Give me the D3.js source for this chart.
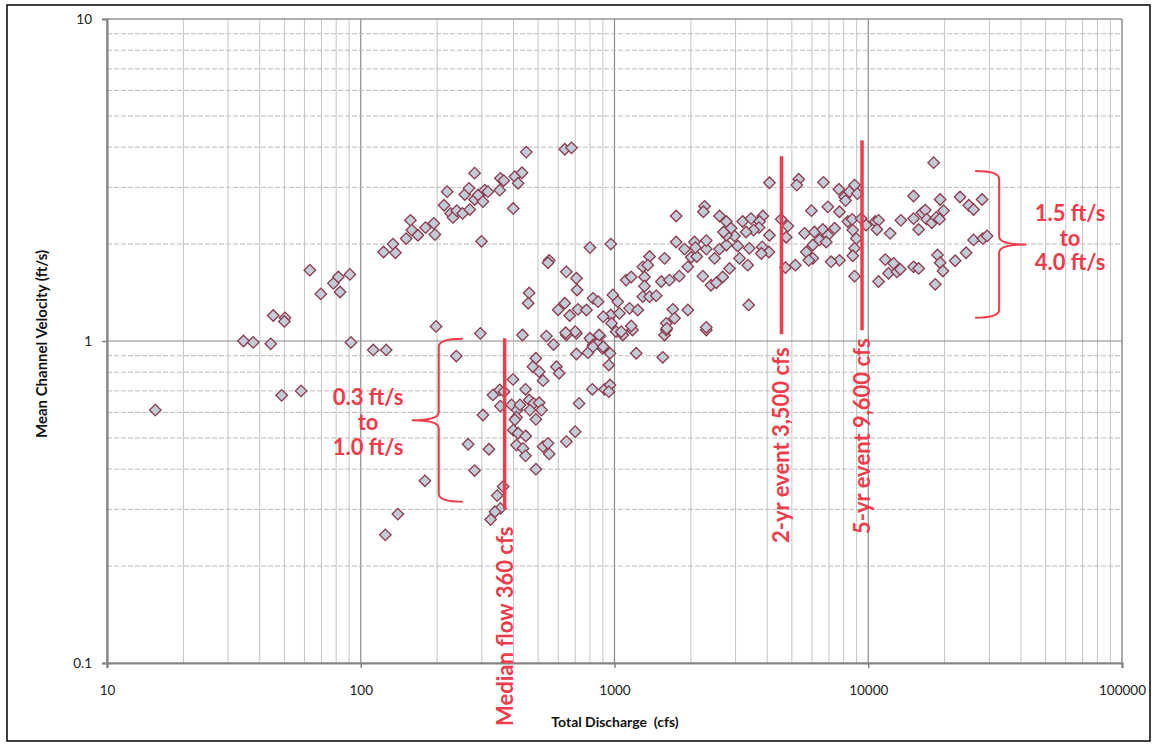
<!DOCTYPE html>
<html><head><meta charset="utf-8">
<script src="https://cdn.jsdelivr.net/npm/d3@7"></script>
<style>
body{margin:0;background:#fff;}
svg{display:block;}
</style></head>
<body>
<svg id="c" width="1155" height="744"></svg>
<script>
// ---- data ----
const discharge = [
15.5,34.5,37.7,44.2,45.2,50.3,50,63,69.6,78,81.6,82.9,90.6,91.5,48.8,58.2,112,126,125,140,179,198,238,296,265,281,303,320,
123,134,137,151,157,159,168,180,194,196,213,219,226,231,239,252,257,267,269,281,281,290,303,308,317,299,353,355,366,399,405,417,432,449,637,677,
434,539,575,490,553,547,461,457,600,646,708,800,876,1015,1078,1178,1575,1600,2300,477,505,523,398,590,605,708,786,823,862,897,960,950,1218,1550,
818,915,960,950,725,446,332,353,367,355,393,413,424,461,480,505,516,464,490,411,405,399,417,447,411,436,446,490,523,547,553,646,700,364,345,355,338,325,
800,967,646,708,712,637,666,718,775,700,642,823,862,985,1030,966,903,1046,974,1063,869,823,903,
1112,1164,1313,1293,1374,1353,1313,1293,1374,1460,1146,1235,1164,1530,1647,1575,1750,1888,2067,1946,1800,2006,2110,2300,2300,2085,
1698,1724,1600,1607,1946,2300,2480,2594,2760,2970,2760,3060,3110,3350,3400,2230,2400,2520,2670,2840,3820,4060,3790,4080,
2264,2240,2594,2760,2880,2690,3200,3450,3840,3730,3710,3530,3300,4540,4820,4750,1750,4080,5320,5230,6660,7660,8070,8430,8830,9060,8140,
5970,6930,7700,5610,6140,6620,6930,7370,6420,6830,6050,8310,8650,9380,9800,10660,8690,8970,8830,8690,8830,10980,7700,7140,6050,5700,5830,5160,4720,3380,
18100,15090,19200,23000,24900,26000,28100,10980,10820,12200,13450,15090,15800,16280,16780,17000,17800,18530,19100,19800,
11670,12580,12020,12970,13370,15090,15800,18750,19200,19700,18370,22000,24300,26000,28300,29400
];
const velocity = [
0.61,1.0,0.99,0.98,1.2,1.18,1.15,1.66,1.40,1.51,1.58,1.42,1.61,0.99,0.678,0.70,0.938,0.938,0.25,0.29,0.368,1.11,0.898,1.056,0.478,0.396,0.589,0.461,
1.89,2.0,1.88,2.08,2.37,2.21,2.13,2.25,2.32,2.14,2.64,2.91,2.49,2.42,2.54,2.49,2.85,2.98,2.56,3.32,2.75,2.84,2.71,2.94,2.91,2.04,2.94,3.2,3.15,2.58,3.24,3.09,3.33,3.86,3.94,3.98,
1.044,1.036,0.975,0.884,1.78,1.75,1.41,1.31,1.25,1.044,1.056,1.02,1.036,1.069,1.044,1.082,1.044,1.082,1.082,0.832,0.803,0.753,0.76,0.832,0.794,0.911,0.92,0.972,0.984,0.949,0.916,0.842,0.916,0.89,
0.708,0.708,0.73,0.696,0.64,0.708,0.68,0.705,0.696,0.628,0.633,0.61,0.633,0.656,0.64,0.643,0.61,0.61,0.571,0.58,0.569,0.529,0.517,0.507,0.475,0.464,0.44,0.40,0.47,0.481,0.446,0.487,0.523,0.353,0.331,0.302,0.295,0.279,
1.95,2.0,1.64,1.566,1.44,1.31,1.2,1.254,1.248,1.069,1.061,1.357,1.325,1.39,1.325,1.204,1.19,1.219,1.135,1.069,1.044,0.96,0.96,
1.546,1.58,1.58,1.70,1.83,1.72,1.48,1.373,1.373,1.383,1.263,1.248,1.113,1.53,1.546,1.806,2.03,1.93,2.03,1.70,1.59,1.82,1.83,1.93,2.05,1.95,
1.254,1.176,1.135,1.095,1.248,1.103,1.806,1.93,1.987,2.12,2.13,1.973,1.806,1.72,1.94,1.59,1.49,1.517,1.58,1.68,1.96,1.89,1.87,2.13,
2.62,2.52,2.445,2.35,2.24,2.18,2.35,2.40,2.445,2.35,2.25,2.21,2.18,2.387,2.275,2.10,2.445,3.1,3.18,3.05,3.11,2.96,2.80,2.91,3.05,2.87,2.73,
2.54,2.61,2.52,2.16,2.18,2.22,2.13,2.24,2.06,2.03,1.987,2.35,2.387,2.40,2.29,2.35,2.21,2.08,1.94,1.84,1.59,1.53,1.78,1.763,1.806,1.89,1.78,1.72,1.69,1.294,
3.58,2.82,2.75,2.80,2.64,2.56,2.75,2.37,2.22,2.16,2.37,2.40,2.22,2.50,2.55,2.39,2.33,2.42,2.39,2.54,
1.79,1.743,1.623,1.64,1.67,1.70,1.68,1.85,1.75,1.65,1.50,1.775,1.88,2.06,2.08,2.12
];
const xTickLabels = ["10","100","1000","10000","100000"];
const xTickValues = [10,100,1000,10000,100000];
const yTickLabels = ["0.1","1","10"];
const yTickValues = [0.1,1,10];
// event markers: discharge position, vertical extent (velocity), label
const markerX = [369, 4550, 9450];
const markerTop = [1.02, 3.75, 4.2];
const markerBottom = [0.3, 1.05, 1.08];
const markerLabels = ["Median flow 360 cfs", "2-yr event 3,500 cfs", "5-yr event 9,600 cfs"];
// bracket positions (discharge) and velocity ranges
const braceLowX = 203, braceLowRange = [1.017, 0.317];
const braceHighX = 32800, braceHighRange = [3.37, 1.18];
const rangeLow = ["0.3 ft/s","to","1.0 ft/s"];
const rangeHigh = ["1.5 ft/s","to","4.0 ft/s"];
const xTitle = "Total Discharge  (cfs)";
const yTitle = "Mean Channel Velocity (ft/s)";

// ---- drawing ----
const svg = d3.select("#c");
const L=107, R=1122, T=19, B=663;
const x = d3.scaleLog().domain([10,100000]).range([L,R]);
const y = d3.scaleLog().domain([0.1,10]).range([B,T]);
const RED = "#ef3b4a";
const FONT = "Lato, 'Open Sans', sans-serif";

svg.append("rect").attr("x",7).attr("y",5).attr("width",1143).attr("height",736)
  .attr("fill","none").attr("stroke","#000").attr("stroke-width",1.5);

const grid = svg.append("g");
x.ticks().forEach(v=>{
  const major = Math.abs(Math.log10(v)-Math.round(Math.log10(v)))<1e-9;
  grid.append("line").attr("x1",x(v)).attr("x2",x(v)).attr("y1",T).attr("y2",B)
    .attr("stroke", major? "#8a8a8a":"#c4c4c4").attr("stroke-width", major?1.2:1);
});
y.ticks().forEach(v=>{
  const major = Math.abs(Math.log10(v)-Math.round(Math.log10(v)))<1e-9;
  grid.append("line").attr("x1",L).attr("x2",R).attr("y1",y(v)).attr("y2",y(v))
    .attr("stroke", major? "#8a8a8a":"#bdbdbd").attr("stroke-width", major?1.2:1)
    .attr("stroke-dasharray", major? null : "5,2");
});
svg.append("line").attr("x1",L).attr("x2",R).attr("y1",T).attr("y2",T).attr("stroke","#9a9a9a");
svg.append("line").attr("x1",R).attr("x2",R).attr("y1",T).attr("y2",B).attr("stroke","#9a9a9a");

const xAxis = svg.append("g").attr("transform",`translate(0,${B})`)
  .call(d3.axisBottom(x).tickValues(xTickValues).tickFormat((d,i)=>xTickLabels[i]).tickSize(5).tickPadding(17));
const yAxis = svg.append("g").attr("transform",`translate(${L},0)`)
  .call(d3.axisLeft(y).tickValues(yTickValues).tickFormat((d,i)=>yTickLabels[i]).tickSize(5).tickPadding(10));
[xAxis,yAxis].forEach(a=>{
  a.select(".domain").attr("stroke","#858585").attr("stroke-width",2.2);
  a.selectAll(".tick line").attr("stroke","#858585").attr("stroke-width",1.5);
  a.selectAll("text").attr("font-family",FONT).attr("font-size",13.5).attr("fill","#222");
});

svg.append("text").attr("x",615).attr("y",727).attr("text-anchor","middle")
  .style("white-space","pre")
  .attr("font-family",FONT).attr("font-weight","bold").attr("font-size",14).attr("fill","#111").text(xTitle);
svg.append("text").attr("transform","translate(47,344) rotate(-90)").attr("text-anchor","middle")
  .attr("font-family",FONT).attr("font-weight","bold").attr("font-size",15).attr("fill","#111").text(yTitle);

const pts = discharge.map((d,i)=>({q:d,v:velocity[i]}));
const sym = d3.symbol().type(d3.symbolSquare).size(66);
svg.append("g").selectAll("path").data(pts).join("path")
  .attr("d",sym)
  .attr("transform",d=>`translate(${x(d.q)},${y(d.v)}) rotate(45)`)
  .attr("fill","#c3cbd7").attr("stroke","#8b3b4d").attr("stroke-width",1.3);

const ann = svg.append("g");
markerX.forEach((mx,i)=>{
  ann.append("line").attr("x1",x(mx)).attr("x2",x(mx)).attr("y1",y(markerTop[i])).attr("y2",y(markerBottom[i]))
    .attr("stroke",RED).attr("stroke-width",3.5);
});
const labelBottom = [726, 543, 534];
markerX.forEach((mx,i)=>{
  ann.append("text").attr("transform",`translate(${x(mx)+8},${labelBottom[i]}) rotate(-90)`)
    .attr("font-family",FONT).attr("font-weight","bold").attr("font-size",22)
    .attr("fill",RED).text(markerLabels[i]);
});

function brace(xv, range, dir){
  const yt=y(range[0]), yb=y(range[1]), xc=x(xv), ym=(yt+yb)/2;
  const xe = xc - dir*24, xt = xc + dir*27;
  return `M${xe},${yt} Q${xc},${yt} ${xc},${yt+8} L${xc},${ym-8} Q${xc},${ym} ${xt},${ym} Q${xc},${ym} ${xc},${ym+8} L${xc},${yb-8} Q${xc},${yb} ${xe},${yb}`;
}
ann.append("path").attr("d",brace(braceLowX, braceLowRange, -1)).attr("fill","none").attr("stroke",RED).attr("stroke-width",2);
ann.append("path").attr("d",brace(braceHighX, braceHighRange, 1)).attr("fill","none").attr("stroke",RED).attr("stroke-width",2);

rangeLow.forEach((t,i)=>{
  ann.append("text").attr("x",368).attr("y",405+i*25).attr("text-anchor","middle")
    .attr("font-family",FONT).attr("font-weight","bold").attr("font-size",22).attr("fill",RED).text(t);
});
rangeHigh.forEach((t,i)=>{
  ann.append("text").attr("x",1070).attr("y",221+i*24.5).attr("text-anchor","middle")
    .attr("font-family",FONT).attr("font-weight","bold").attr("font-size",22).attr("fill",RED).text(t);
});
</script>
</body></html>
